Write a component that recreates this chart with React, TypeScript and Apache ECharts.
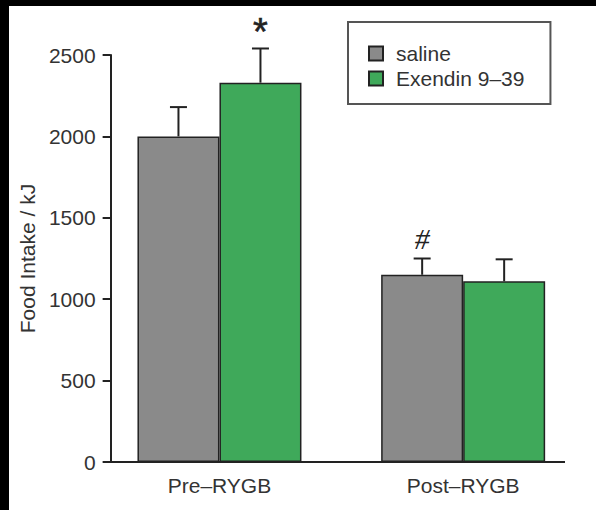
import React, { useEffect, useRef } from "react";
import * as echarts from "echarts";

// Food intake before and after RYGB, saline vs Exendin 9–39 (mean + SEM)
const categories = ["Pre–RYGB", "Post–RYGB"];
const salineMean = [2000, 1150];
const salineSem = [180, 100];
const exendinMean = [2330, 1110];
const exendinSem = [210, 135];
const salineMarks = ["", "#"];
const exendinMarks = ["*", ""];
const yTicks = [0, 500, 1000, 1500, 2000, 2500];

const BAR_W = 82;
const FONT = "'Liberation Sans', Arial, Helvetica, sans-serif";
const TEXT = "#333";
const INK = "#222";

function errorSeries(
  name: string,
  means: number[],
  sems: number[],
  marks: string[],
  shift: number
) {
  return {
    type: "custom",
    name,
    z: 5,
    silent: true,
    data: means.map((m, i) => [i, m, sems[i]]),
    renderItem: (params: any, api: any) => {
      const i = api.value(0);
      const mean = api.value(1);
      const sem = api.value(2);
      const x = api.coord([i, 0])[0] + shift;
      const yBase = api.coord([i, mean])[1];
      const yTop = api.coord([i, mean + sem])[1];
      const cap = 17;
      const children: any[] = [
        {
          type: "line",
          shape: { x1: x, y1: yBase, x2: x, y2: yTop },
          style: { stroke: INK, lineWidth: 2 },
        },
        {
          type: "line",
          shape: { x1: x - cap / 2, y1: yTop, x2: x + cap / 2, y2: yTop },
          style: { stroke: INK, lineWidth: 2 },
        },
      ];
      const mark = marks[i];
      if (mark === "*") {
        children.push({
          type: "text",
          x,
          y: yTop - 16,
          style: {
            text: mark,
            fontSize: 38,
            fontFamily: FONT,
            fill: INK,
            stroke: INK,
            lineWidth: 0.6,
            align: "center",
            verticalAlign: "middle",
          },
        });
      } else if (mark) {
        children.push({
          type: "text",
          x,
          y: yTop - 20,
          style: {
            text: mark,
            fontSize: 30,
            fontStyle: "italic",
            fontFamily: "'Liberation Serif', 'Times New Roman', serif",
            fill: INK,
            align: "center",
            verticalAlign: "middle",
          },
        });
      }
      return { type: "group", children };
    },
  };
}

export default function App() {
  const ref = useRef<HTMLDivElement>(null);

  useEffect(() => {
    if (!ref.current) return;
    const chart = echarts.init(ref.current, null, { renderer: "svg" });
    chart.setOption({
      animation: false,
      backgroundColor: "#ffffff",
      textStyle: { fontFamily: FONT },
      grid: { left: 84, right: 11, top: 49, bottom: 48, containLabel: false },
      legend: {
        orient: "vertical",
        left: 339,
        top: 16,
        data: ["saline", "Exendin 9–39"],
        itemWidth: 14,
        itemHeight: 14,
        itemGap: 4,
        padding: [21, 26, 15, 20],
        borderColor: "#555",
        borderWidth: 2,
        borderRadius: 0,
        icon: "rect",
        selectedMode: false,
        textStyle: {
          fontSize: 21,
          color: TEXT,
          fontFamily: FONT,
          padding: [0, 0, 0, 8],
        },
      },
      xAxis: {
        type: "category",
        data: categories,
        boundaryGap: true,
        axisLine: { show: false },
        axisTick: { show: false },
        axisLabel: { fontSize: 21, color: TEXT, margin: 13, fontFamily: FONT },
      },
      yAxis: {
        type: "value",
        min: yTicks[0],
        max: yTicks[yTicks.length - 1],
        interval: 500,
        offset: -13,
        name: "Food Intake / kJ",
        nameLocation: "middle",
        nameGap: 66,
        nameTextStyle: { fontSize: 21, color: TEXT, fontFamily: FONT },
        splitLine: { show: false },
        axisLine: { show: true, lineStyle: { color: INK, width: 2 } },
        axisTick: { show: true, length: 8, lineStyle: { color: INK, width: 2 } },
        axisLabel: {
          fontSize: 21,
          color: TEXT,
          margin: 15,
          fontFamily: FONT,
          formatter: (v: number) => String(v),
        },
      },
      series: [
        {
          type: "bar",
          name: "saline",
          data: salineMean,
          barWidth: BAR_W,
          barGap: "0%",
          itemStyle: { color: "#8a8a8a", borderColor: INK, borderWidth: 1.5 },
        },
        {
          type: "bar",
          name: "Exendin 9–39",
          data: exendinMean,
          barWidth: BAR_W,
          barGap: "0%",
          itemStyle: { color: "#3fa95a", borderColor: INK, borderWidth: 1.5 },
        },
        errorSeries("saline-err", salineMean, salineSem, salineMarks, -BAR_W / 2),
        errorSeries("exendin-err", exendinMean, exendinSem, exendinMarks, BAR_W / 2),
      ],
    });

    // baseline of the value axis, running from the y-axis line to its right end
    const y0 = chart.convertToPixel({ yAxisIndex: 0 }, 0) as number;
    chart.setOption({
      graphic: [
        {
          type: "line",
          z: 10,
          shape: { x1: 99, y1: y0, x2: 556, y2: y0 },
          style: { stroke: INK, lineWidth: 2 },
        },
      ],
    });

    return () => chart.dispose();
  }, []);

  return (
    <div
      style={{
        position: "fixed",
        left: 0,
        top: 0,
        width: 596,
        height: 510,
        background: "#000",
      }}
    >
      <div
        ref={ref}
        style={{
          position: "absolute",
          left: 9,
          top: 6,
          width: 587,
          height: 504,
          background: "#fff",
        }}
      />
    </div>
  );
}
